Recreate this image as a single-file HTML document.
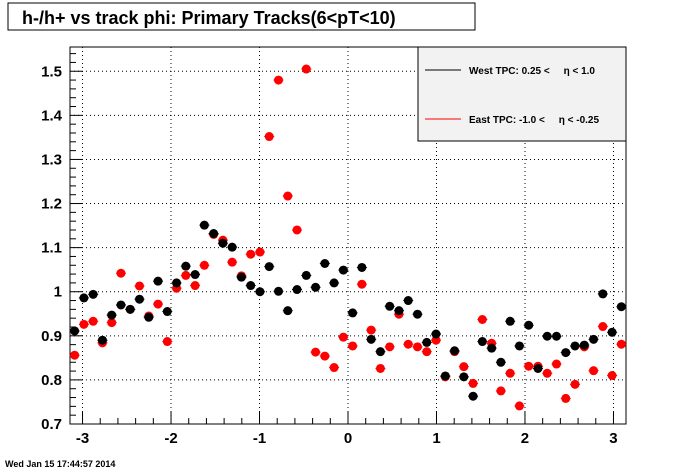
<!DOCTYPE html>
<html><head><meta charset="utf-8"><style>
body{margin:0;background:#fff;}
svg{display:block;font-family:"Liberation Sans",Arial,sans-serif;}
</style></head><body>
<svg id="c" width="696" height="472" viewBox="0 0 696 472">
<rect x="8" y="3" width="467" height="27" fill="#fff" stroke="#000" stroke-width="1"/>
<text x="22" y="24" font-size="18" font-weight="bold">h-/h+ vs track phi: Primary Tracks(6&lt;pT&lt;10)</text>
<g id="grid"></g>
<g id="axes"></g>
<g id="marks"></g>
<rect x="418" y="47" width="208" height="94" fill="#f2f2f2" stroke="#000"/>
<g>
<line x1="425" y1="70" x2="461" y2="70" stroke="#000"/>
<text x="469" y="74" font-size="10" font-weight="bold">West TPC: 0.25 &lt;&#160;&#160;&#160;&#160;&#160;η &lt; 1.0</text>
</g>
<g>
<line x1="425" y1="119" x2="461" y2="119" stroke="#f00"/>
<text x="469" y="123" font-size="10" font-weight="bold">East TPC: -1.0 &lt;&#160;&#160;&#160;&#160;&#160;η &lt; -0.25</text>
</g>
<text x="5" y="467" font-size="9" font-weight="bold">Wed Jan 15 17:44:57 2014</text>
</svg>
<script>
const westValues=[0.911,0.986,0.994,0.890,0.947,0.970,0.960,0.983,0.942,1.024,0.955,1.020,1.058,1.039,1.151,1.132,1.110,1.101,1.033,1.014,1.000,1.057,1.001,0.957,1.005,1.037,1.010,1.064,1.020,1.049,0.952,1.055,0.892,0.864,0.967,0.957,0.980,0.949,0.885,0.904,0.809,0.866,0.807,0.763,0.887,0.872,0.840,0.933,0.877,0.924,0.826,0.899,0.899,0.862,0.877,0.879,0.892,0.995,0.908,0.966];
const eastValues=[0.856,0.926,0.933,0.884,0.930,1.042,0.960,1.013,0.945,0.972,0.887,1.008,1.037,1.014,1.060,1.130,1.117,1.067,1.036,1.085,1.090,1.352,1.480,1.217,1.140,1.505,0.863,0.854,0.828,0.897,0.877,1.017,0.913,0.826,0.875,0.949,0.881,0.875,0.864,0.890,0.807,0.864,0.830,0.792,0.937,0.883,0.775,0.815,0.741,0.831,0.831,0.815,0.836,0.758,0.790,0.875,0.821,0.921,0.810,0.881];
const xTicks=[-3,-2,-1,0,1,2,3];
const yTicks=[0.7,0.8,0.9,1.0,1.1,1.2,1.3,1.4,1.5];
const yTickLabels=["0.7","0.8","0.9","1","1.1","1.2","1.3","1.4","1.5"];
const xMin=-Math.PI,xMax=Math.PI,yMin=0.7,yMax=1.555;
const L=70,R=626,T=47,B=424;
const sx=v=>L+(v-xMin)/(xMax-xMin)*(R-L);
const sy=v=>B-(v-yMin)/(yMax-yMin)*(B-T);
const NS="http://www.w3.org/2000/svg";
function mk(p,tag,a){const e=document.createElementNS(NS,tag);for(const k in a)e.setAttribute(k,a[k]);p.appendChild(e);return e;}
const grid=document.getElementById('grid'),axes=document.getElementById('axes'),marks=document.getElementById('marks');
xTicks.forEach((t,i)=>{
 const g=mk(grid,'line',{x1:sx(t),x2:sx(t),y1:T,y2:B,stroke:'#000','stroke-dasharray':'1,3','stroke-width':1});
 
 
 const tx=mk(axes,'text',{x:sx(t),y:443,'font-size':15,'font-weight':'bold','text-anchor':'middle'});
 tx.textContent=String(t);
 
 
});
yTicks.forEach((t,i)=>{
 const g=mk(grid,'line',{x1:L,x2:R,y1:sy(t),y2:sy(t),stroke:'#000','stroke-dasharray':'1,3','stroke-width':1});
 
 
 const tx=mk(axes,'text',{x:62,y:sy(t)+5,'font-size':15,'font-weight':'bold','text-anchor':'end'});
 tx.textContent=yTickLabels[i];
 
 
});
for(let v=-3.2;v<=3.2;v+=0.2){const r=Math.round(v*10)/10;if(r<xMin||r>xMax)continue;const maj=Math.abs(r-Math.round(r))<1e-6;mk(axes,'line',{x1:sx(r),x2:sx(r),y1:B,y2:B-(maj?12:6),stroke:'#000'});}
for(let i=35;i<=78;i++){const v=i/50;if(v>yMax)break;const maj=i%5===0;mk(axes,'line',{x1:L,x2:L+(maj?12:6),y1:sy(v),y2:sy(v),stroke:'#000'});}
const fr=mk(axes,'rect',{x:L,y:T,width:R-L,height:B-T,fill:'none',stroke:'#000'});


const n=westValues.length,w=(xMax-xMin)/n;
function series(vals,col,name){vals.forEach((v,i)=>{const cx=sx(xMin+w*(i+0.5)),cy=sy(v);
 mk(marks,'line',{x1:cx-5,x2:cx+5,y1:cy,y2:cy,stroke:col});
 const c=mk(marks,'circle',{cx:cx,cy:cy,r:4.5,fill:col});
 
 });}
series(eastValues,'#f00','east-point');
series(westValues,'#000','west-point');
</script>
</body></html>
